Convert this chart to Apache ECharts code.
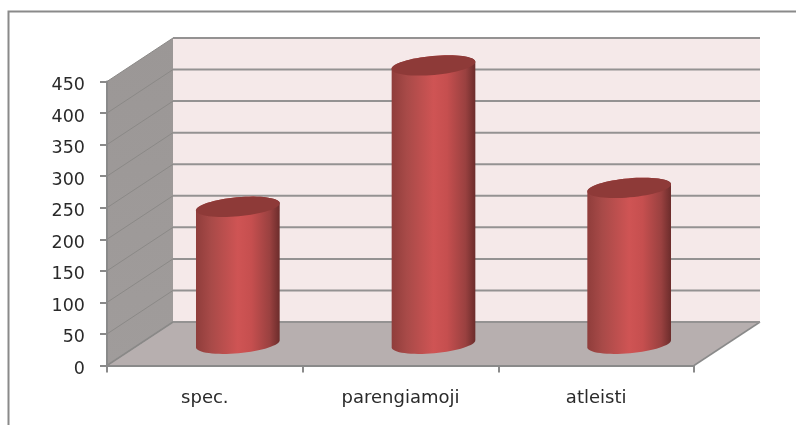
<!DOCTYPE html>
<html><head><meta charset="utf-8">
<style>html,body{margin:0;padding:0;background:#fff}#c{width:796px;height:425px}</style>
<script src="https://cdn.jsdelivr.net/npm/echarts@6/dist/echarts.min.js"></script>
</head><body><div id="c"></div>
<script>
const categories = ['spec.', 'parengiamoji', 'atleisti'];
const values = [217, 441, 247];
const yTicks = [0, 50, 100, 150, 200, 250, 300, 350, 400, 450];

const DX = 66, DY = -43.5;
const chart = echarts.init(document.getElementById('c'), null, {renderer: 'canvas'});

function ellipsePts(cx, cy, a, b, th, t0, t1, n) {
  const pts = [];
  for (let i = 0; i <= n; i++) {
    const t = t0 + (t1 - t0) * i / n;
    const x = a * Math.cos(t), y = b * Math.sin(t);
    pts.push([cx + x * Math.cos(th) + y * Math.sin(th), cy - x * Math.sin(th) + y * Math.cos(th)]);
  }
  return pts;
}

chart.setOption({
  animation: false,
  backgroundColor: '#fff',
  graphic: [{
    type: 'polyline', silent: true, z: 0,
    shape: {points: [[8.5, 425], [8.5, 11.5], [796, 11.5]]},
    style: {stroke: '#8a8a8a', lineWidth: 2, fill: null}
  }],
  grid: {left: 107, top: 81.5, width: 587, height: 284},
  xAxis: {
    type: 'category', data: categories, z: 5,
    axisLine: {lineStyle: {color: '#8a8a8a', width: 2}},
    axisTick: {show: true, alignWithLabel: false, length: 7, lineStyle: {color: '#8a8a8a', width: 2}},
    axisLabel: {color: '#2a2a2a', fontFamily: 'DejaVu Sans', fontSize: 18, margin: 24},
    splitLine: {show: false}
  },
  yAxis: {
    type: 'value', min: 0, max: 450, interval: 50, z: 5,
    axisLine: {show: true, lineStyle: {color: '#8a8a8a', width: 2}},
    axisTick: {show: true, length: 7, lineStyle: {color: '#8a8a8a', width: 2}},
    axisLabel: {color: '#2a2a2a', fontFamily: 'DejaVu Sans', fontSize: 17.5, margin: 22, verticalAlign: 'top', lineHeight: 8},
    splitLine: {show: false}
  },
  series: [
    {
      type: 'custom', coordinateSystem: 'cartesian2d', silent: true, z: 1,
      data: [[0, 0]], encode: {x: 0, y: 1},
      renderItem(params, api) {
        const cs = params.coordSys;
        const l = cs.x, r = cs.x + cs.width, t = cs.y, b = cs.y + cs.height;
        return {type: 'group', children: [
          {type: 'polygon', shape: {points: [[l + DX, t + DY], [r + DX, t + DY], [r + DX, b + DY], [l + DX, b + DY]]}, style: {fill: '#f5e9e9'}},
          {type: 'polygon', shape: {points: [[l, t], [l + DX, t + DY], [l + DX, b + DY], [l, b]]},
            style: {fill: new echarts.graphic.LinearGradient(0, 0, 0, 1, [{offset: 0, color: '#9b9796'}, {offset: 1, color: '#a09c9b'}])}},
          {type: 'polygon', shape: {points: [[l, b], [l + DX, b + DY], [r + DX, b + DY], [r, b]]}, style: {fill: '#b7afaf'}},
          {type: 'line', shape: {x1: l, y1: b, x2: l + DX, y2: b + DY}, style: {stroke: '#8a8a8a', lineWidth: 1.5}},
          {type: 'line', shape: {x1: r, y1: b, x2: r + DX, y2: b + DY}, style: {stroke: '#8a8a8a', lineWidth: 1.5}}
        ]};
      }
    },
    {
      type: 'custom', coordinateSystem: 'cartesian2d', silent: true, z: 2,
      data: yTicks.map(v => [0, v]), encode: {x: 0, y: 1},
      renderItem(params, api) {
        const cs = params.coordSys;
        const y = api.coord([0, api.value(1)])[1];
        const l = cs.x, r = cs.x + cs.width;
        return {type: 'group', children: [
          {type: 'line', shape: {x1: l, y1: y, x2: l + DX, y2: y + DY}, style: {stroke: '#8b8987', lineWidth: 1}},
          {type: 'line', shape: {x1: l + DX, y1: y + DY, x2: r + DX, y2: y + DY}, style: {stroke: '#949292', lineWidth: 2}}
        ]};
      }
    },
    {
      type: 'custom', coordinateSystem: 'cartesian2d', silent: true, z: 3,
      data: values.map((v, i) => [i, v]), encode: {x: 0, y: 1},
      renderItem(params, api) {
        const base = api.coord([api.value(0), 0]);
        const top = api.coord([api.value(0), api.value(1)]);
        const cx = base[0] + DX / 2, by = base[1] + DY / 2, ty = top[1] + DY / 2;
        const a = api.size([1, 0])[0] * 0.2147, b = 9.5, th = 0.09;
        const lower = ellipsePts(cx, by, a, b, th, 0, Math.PI, 32);
        const upper = ellipsePts(cx, ty, a, b, th, Math.PI, 2 * Math.PI, 32);
        const x0 = cx - a, x1 = cx + a;
        const body = new echarts.graphic.LinearGradient(x0, 0, x1, 0, [
          {offset: 0, color: '#8f3d3b'},
          {offset: 0.18, color: '#a84a48'},
          {offset: 0.5, color: '#cf5454'},
          {offset: 0.66, color: '#c64f4f'},
          {offset: 0.88, color: '#9a4140'},
          {offset: 1, color: '#6b2c2b'}
        ], true);
        return {type: 'group', children: [
          {type: 'polygon', shape: {points: upper.concat(lower)}, style: {fill: body}},
          {type: 'polygon', shape: {points: ellipsePts(cx, ty, a, b, th, 0, 2 * Math.PI, 64)}, style: {fill: '#8e3a38'}}
        ]};
      }
    }
  ]
});
</script></body></html>
